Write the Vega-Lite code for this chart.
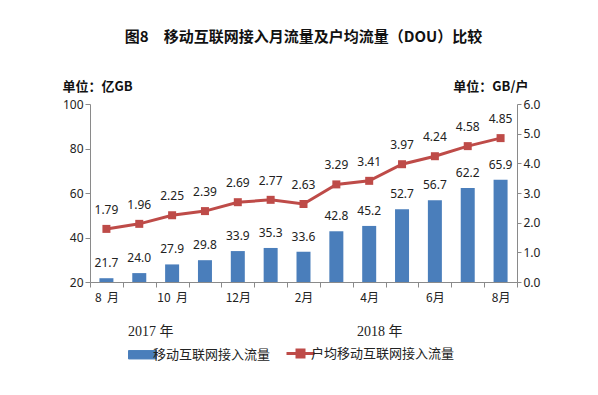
{
  "$schema": "https://vega.github.io/schema/vega-lite/v6.json",
  "width": 427,
  "height": 178,
  "autosize": {"type": "none"},
  "padding": {"left": 90, "top": 104, "right": 81, "bottom": 113},
  "background": "white",
  "title": {
    "text": "图8\u3000移动互联网接入月流量及户均流量（DOU）比较",
    "font": "Noto Sans CJK SC",
    "fontSize": 15,
    "fontWeight": "bold",
    "color": "#111111",
    "anchor": "middle",
    "offset": 35
  },
  "config": {
    "view": {"stroke": null},
    "axis": {
      "grid": false,
      "domainColor": "#8a8a8a",
      "tickColor": "#8a8a8a",
      "labelFont": "Noto Sans",
      "labelFontSize": 12,
      "labelColor": "#222222"
    }
  },
  "data": {
    "values": [
      {"m": 0, "flow": 21.7, "dou": 1.79},
      {"m": 1, "flow": 24.0, "dou": 1.96},
      {"m": 2, "flow": 27.9, "dou": 2.25},
      {"m": 3, "flow": 29.8, "dou": 2.39},
      {"m": 4, "flow": 33.9, "dou": 2.69},
      {"m": 5, "flow": 35.3, "dou": 2.77},
      {"m": 6, "flow": 33.6, "dou": 2.63},
      {"m": 7, "flow": 42.8, "dou": 3.29},
      {"m": 8, "flow": 45.2, "dou": 3.41},
      {"m": 9, "flow": 52.7, "dou": 3.97},
      {"m": 10, "flow": 56.7, "dou": 4.24},
      {"m": 11, "flow": 62.2, "dou": 4.58},
      {"m": 12, "flow": 65.9, "dou": 4.85}
    ]
  },
  "encoding": {
    "x": {
      "field": "m",
      "type": "ordinal",
      "scale": {"paddingInner": 0, "paddingOuter": 0},
      "axis": {
        "title": null,
        "labelAngle": 0,
        "tickBand": "extent",
        "tickSize": 5,
        "labelPadding": 5,
        "labelLineHeight": 32,
        "labelFont": {"condition": {"test": "datum.value==1 || datum.value==7", "value": "Liberation Serif, Noto Sans CJK SC"}, "value": "Noto Sans CJK SC"},
        "labelFontSize": {"condition": {"test": "datum.value==1 || datum.value==7", "value": 14}, "value": 12},
        "labelOffset": {"condition": [{"test": "datum.value==1", "value": 11}, {"test": "datum.value==7", "value": 43}], "value": 0},
        "labelExpr": "datum.value==0?'8\u00a0\u00a0月':datum.value==1?['','2017\u00a0年']:datum.value==2?'10\u00a0\u00a0月':datum.value==4?'12月':datum.value==6?'2月':datum.value==7?['','2018\u00a0年']:datum.value==8?'4月':datum.value==10?'6月':datum.value==12?'8月':''"
      }
    }
  },
  "layer": [
    {
      "encoding": {
        "y": {
          "field": "flow",
          "type": "quantitative",
          "scale": {"domain": [20, 100], "zero": false, "nice": false},
          "axis": {
            "values": [20, 40, 60, 80, 100],
            "tickSize": 5,
            "labelPadding": 2,
            "title": "单位：亿GB",
            "titleAngle": 0,
            "titleAlign": "left",
            "titleBaseline": "middle",
            "titleX": -28,
            "titleY": -18,
            "titleFont": "Noto Sans CJK SC",
            "titleFontSize": 13,
            "titleFontWeight": "bold",
            "titleColor": "#111111"
          }
        }
      },
      "layer": [
        {
          "mark": {"type": "bar", "width": 14},
          "encoding": {
            "y2": {"datum": 20},
            "color": {
              "datum": "移动互联网接入流量",
              "scale": {
                "domain": ["移动互联网接入流量", "户均移动互联网接入流量"],
                "range": ["#4a7ebb", "#be4b48"]
              },
              "legend": {
                "title": null,
                "orient": "none",
                "legendX": 46,
                "legendY": 243,
                "direction": "horizontal",
                "symbolSize": 784,
                "labelFont": "Noto Sans CJK SC",
                "labelFontSize": 13,
                "labelColor": "#222222",
                "labelOffset": 4,
                "columnPadding": 9,
                "encode": {
                  "symbols": {
                    "update": {
                      "shape": {"signal": "datum.value === '移动互联网接入流量' ? 'M-1,-0.3H1V0.3H-1Z' : 'M-1,0H1M-0.25,-0.25H0.25V0.25H-0.25Z'"},
                      "strokeWidth": {"signal": "datum.value === '移动互联网接入流量' ? 1 : 3"}
                    }
                  }
                }
              }
            }
          }
        },
        {
          "mark": {"type": "text", "baseline": "middle", "dy": -15, "font": "Noto Sans", "fontSize": 12, "color": "#222222"},
          "encoding": {
            "text": {"field": "flow", "type": "quantitative", "format": ".1f"}
          }
        }
      ]
    },
    {
      "encoding": {
        "y": {
          "field": "dou",
          "type": "quantitative",
          "scale": {"domain": [0, 6], "nice": false},
          "axis": {
            "orient": "right",
            "values": [0, 1, 2, 3, 4, 5, 6],
            "format": ".1f",
            "tickSize": 4,
            "labelPadding": 2,
            "title": "单位：GB/户",
            "titleAngle": 0,
            "titleAlign": "right",
            "titleBaseline": "middle",
            "titleX": 11,
            "titleY": -18,
            "titleFont": "Noto Sans CJK SC",
            "titleFontSize": 13,
            "titleFontWeight": "bold",
            "titleColor": "#111111"
          }
        }
      },
      "layer": [
        {
          "mark": {
            "type": "line",
            "strokeWidth": 3,
            "point": {"shape": "square", "size": 64, "filled": true}
          },
          "encoding": {
            "color": {"datum": "户均移动互联网接入流量"}
          }
        },
        {
          "mark": {"type": "text", "baseline": "middle", "dy": -19, "font": "Noto Sans", "fontSize": 12, "color": "#222222"},
          "encoding": {
            "text": {"field": "dou", "type": "quantitative", "format": ".2f"}
          }
        }
      ]
    }
  ],
  "resolve": {"scale": {"y": "independent"}}
}
